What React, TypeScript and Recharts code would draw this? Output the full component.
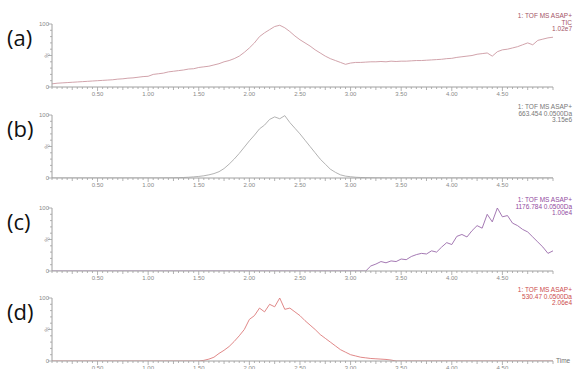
import { LineChart, Line, XAxis, YAxis } from 'recharts';

// retention time (min)
const times = [
  0.05, 0.1, 0.15, 0.2, 0.25, 0.3, 0.35, 0.4, 0.45, 0.5,
  0.55, 0.6, 0.65, 0.7, 0.75, 0.8, 0.85, 0.9, 0.95, 1.0,
  1.05, 1.1, 1.15, 1.2, 1.25, 1.3, 1.35, 1.4, 1.45, 1.5,
  1.55, 1.6, 1.65, 1.7, 1.75, 1.8, 1.85, 1.9, 1.95, 2.0,
  2.05, 2.1, 2.15, 2.2, 2.25, 2.3, 2.35, 2.4, 2.45, 2.5,
  2.55, 2.6, 2.65, 2.7, 2.75, 2.8, 2.85, 2.9, 2.95, 3.0,
  3.05, 3.1, 3.15, 3.2, 3.25, 3.3, 3.35, 3.4, 3.45, 3.5,
  3.55, 3.6, 3.65, 3.7, 3.75, 3.8, 3.85, 3.9, 3.95, 4.0,
  4.05, 4.1, 4.15, 4.2, 4.25, 4.3, 4.35, 4.4, 4.45, 4.5,
  4.55, 4.6, 4.65, 4.7, 4.75, 4.8, 4.85, 4.9, 4.95, 5.0,
];

// (a) TIC
const ticValues = [
  5, 6, 6.5, 7, 7.5, 8, 8.5, 9, 9.5, 10,
  10.5, 11, 11.5, 12.5, 13, 14, 14.5, 15.5, 16.5, 17,
  20, 21, 22, 24, 25, 26, 27, 28.5, 29, 31,
  32, 33, 35, 37, 40, 42, 45, 49, 55, 62,
  70, 80, 86, 91, 96, 98, 94, 88, 81, 75,
  70, 65, 59, 54, 49, 45, 42, 39, 36, 38,
  39, 39, 39.5, 40, 40, 40.5, 40, 41, 40.5, 41,
  41, 41.5, 42, 42, 42.5, 43, 43.5, 44, 45, 45.5,
  47, 48, 49, 50, 52, 53, 54, 49, 56, 59,
  60, 62, 64, 67, 70, 67, 74, 76, 78, 79,
];

// (b) 663.454
const mz663Values = [
  0, 0, 0, 0, 0, 0, 0, 0, 0, 0,
  0, 0, 0, 0, 0, 0, 0, 0, 0, 0,
  0, 0, 0.1, 0.2, 0.3, 0.5, 0.8, 1.2, 1.8, 2.5,
  3.5, 5, 7, 10, 15, 22, 30, 39, 49, 59,
  68, 78, 84, 93, 97, 94, 99, 88, 79, 70,
  60, 50, 40, 30, 22, 14, 9, 5, 3, 2,
  1.2, 0.8, 0.5, 0.3, 0.2, 0.1, 0, 0, 0, 0,
  0, 0, 0, 0, 0, 0, 0, 0, 0, 0,
  0, 0, 0, 0, 0, 0, 0, 0, 0, 0,
  0, 0, 0, 0, 0, 0, 0, 0, 0, 0,
];

// (c) 1176.784
const mz1176Values = [
  0, 0, 0, 0, 0, 0, 0, 0, 0, 0,
  0, 0, 0, 0, 0, 0, 0, 0, 0, 0,
  0, 0, 0, 0, 0, 0, 0, 0, 0, 0,
  0, 0, 0, 0, 0, 0, 0, 0, 0, 0,
  0, 0, 0, 0, 0, 0, 0, 0, 0, 0,
  0, 0, 0, 0, 0, 0, 0, 0, 0, 0,
  0, 0, 0, 8, 11, 15, 13, 16, 15, 19,
  18, 23, 26, 28, 27, 32, 30, 38, 45, 42,
  55, 58, 54, 64, 72, 68, 90, 78, 100, 86,
  88, 76, 72, 66, 62, 54, 46, 38, 28, 32,
];

// (d) 530.47
const mz530Values = [
  0, 0, 0, 0, 0, 0, 0, 0, 0, 0,
  0, 0, 0, 0, 0, 0, 0, 0, 0, 0,
  0, 0, 0, 0, 0, 0, 0, 0, 0, 0,
  1, 3, 6, 12, 17, 23, 31, 40, 50, 66,
  72, 84, 78, 90, 86, 100, 82, 84, 78, 72,
  64, 57, 50, 42, 36, 30, 24, 18, 14, 10,
  8, 6, 5, 4, 3.5, 3, 2.5, 1.5, 0, 0,
  0, 0, 0, 0, 0, 0, 0, 0, 0, 0,
  0, 0, 0, 0, 0, 0, 0, 0, 0, 0,
  0, 0, 0, 0, 0, 0, 0, 0, 0, 0,
];

const xLabelValues = [0.5, 1.0, 1.5, 2.0, 2.5, 3.0, 3.5, 4.0, 4.5];
const xLabels = ['0.50', '1.00', '1.50', '2.00', '2.50', '3.00', '3.50', '4.00', '4.50'];
const yTicks = [0, 10, 20, 30, 40, 50, 60, 70, 80, 90, 100];

const panelLetters = ['(a)', '(b)', '(c)', '(d)'];
const headerLines = [
  ['1: TOF MS ASAP+', 'TIC', '1.02e7'],
  ['1: TOF MS ASAP+', '663.454 0.0500Da', '3.15e6'],
  ['1: TOF MS ASAP+', '1176.784 0.0500Da', '1.00e4'],
  ['1: TOF MS ASAP+', '530.47 0.0500Da', '2.06e4'],
];
const seriesValues = [ticValues, mz663Values, mz1176Values, mz530Values];

const lineColors = ['#cc98a2', '#aaaaaa', '#9a6aaa', '#dc7a7a'];
const textColors = ['#a45466', '#777777', '#914aa0', '#cc4c4c'];
const plotTops = [24, 115, 208, 298];

const FONT = '"Liberation Sans", Arial, sans-serif';

function XTick(props: any) {
  const { x, y, payload } = props;
  const v = payload.value;
  const idx = xLabelValues.findIndex((lv) => Math.abs(lv - v) < 1e-6);
  const quarter = Math.abs(Math.round(v * 100) % 25) === 0;
  const len = idx >= 0 ? 4 : quarter ? 3 : 2;
  return (
    <g>
      <line x1={x} x2={x} y1={y} y2={y + len} stroke="#a0a0a0" strokeWidth={0.8} />
      {idx >= 0 && (
        <text x={x} y={y + 9} textAnchor="middle" fontSize={6} fill="#8a8a8a" fontFamily={FONT}>
          {xLabels[idx]}
        </text>
      )}
    </g>
  );
}

function YTick(props: any) {
  const { x, y, payload } = props;
  const v = payload.value;
  const len = v % 50 === 0 ? 4 : 2;
  let label: any = null;
  if (v === 100 || v === 0) {
    label = (
      <text x={x - 3} y={y + 2} textAnchor="end" fontSize={6} fill="#8a8a8a" fontFamily={FONT}>
        {String(v)}
      </text>
    );
  } else if (v === 50) {
    label = (
      <text
        x={x - 5}
        y={y + 2}
        textAnchor="middle"
        fontSize={6}
        fill="#8a8a8a"
        fontFamily={FONT}
        transform={`rotate(-60 ${x - 5} ${y})`}
      >
        %
      </text>
    );
  }
  return (
    <g>
      <line x1={x - len} x2={x} y1={y} y2={y} stroke="#a0a0a0" strokeWidth={0.8} />
      {label}
    </g>
  );
}

function Panel({ i }: { i: number }) {
  const data = times.map((t, k) => ({ t, v: seriesValues[i][k] }));
  const top = plotTops[i] - 8;
  return (
    <div style={{ position: 'absolute', left: 0, top, width: 574, height: 100 }}>
      <LineChart width={574} height={100} data={data} margin={{ top: 8, right: 21, bottom: 0, left: 22 }}>
        <XAxis
          type="number"
          dataKey="t"
          domain={[0.05, 5.0]}
          ticks={times}
          interval={0}
          tick={<XTick />}
          tickLine={false}
          tickSize={0}
          tickMargin={0}
          height={29}
          axisLine={{ stroke: '#a0a0a0' }}
          allowDataOverflow
        />
        <YAxis
          type="number"
          domain={[0, 100]}
          ticks={yTicks}
          interval={0}
          tick={<YTick />}
          tickLine={false}
          tickSize={0}
          tickMargin={0}
          width={30}
          axisLine={{ stroke: '#a0a0a0' }}
          allowDataOverflow
        />
        <Line
          type="linear"
          dataKey="v"
          stroke={lineColors[i]}
          strokeWidth={0.9}
          dot={false}
          isAnimationActive={false}
        />
      </LineChart>
      <div
        style={{
          position: 'absolute',
          left: 7,
          top: 7,
          fontFamily: '"Open Sans", "Noto Sans", sans-serif',
          fontSize: 22,
          color: '#111',
          lineHeight: '28px',
        }}
      >
        {panelLetters[i]}
      </div>
    </div>
  );
}

export default function App() {
  return (
    <div style={{ position: 'absolute', left: 0, top: 0, width: 574, height: 369, background: '#fff', overflow: 'hidden' }}>
      {[0, 1, 2, 3].map((i) => (
        <Panel key={i} i={i} />
      ))}
      {headerLines.map((lines, i) => (
        <div
          key={i}
          style={{
            position: 'absolute',
            right: 2,
            top: plotTops[i] - 11,
            textAlign: 'right',
            fontFamily: FONT,
            fontSize: 6.5,
            lineHeight: '6.6px',
            color: textColors[i],
          }}
        >
          {lines.map((l, k) => (
            <div key={k}>{l}</div>
          ))}
        </div>
      ))}
      <div
        style={{
          position: 'absolute',
          left: 556,
          top: plotTops[3] + 59,
          fontFamily: FONT,
          fontSize: 6.5,
          color: '#707070',
        }}
      >
        Time
      </div>
    </div>
  );
}
